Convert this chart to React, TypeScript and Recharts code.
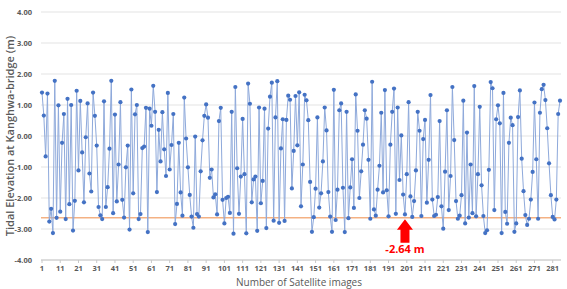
import {
  LineChart,
  Line,
  XAxis,
  YAxis,
  CartesianGrid,
  ReferenceLine,
  ReferenceDot,
  Label,
} from 'recharts';

// tidal elevation (m) per satellite image
const tideLevels = [
  1.4, 0.66, -0.66, 1.37, -2.76, -2.35, -3.13, 1.78, -2.64, 0.99,
  -2.44, -0.22, 0.71, -2.68, 1.2, -2.2, 1.0, -3.05, -2.09, 1.46,
  -1.11, 1.13, -0.53, -2.14, -0.04, 1.05, -1.21, -1.79, 1.4, 0.65,
  -0.31, -2.29, -2.56, -2.68, 1.12, -2.29, -1.65, -0.41, 1.78, -2.49,
  0.69, -2.11, -0.92, 1.09, -2.06, -2.63, -1.01, -0.31, -3.02, 1.5,
  -1.85, 0.7, 1.0, -2.68, -2.52, -0.39, -0.34, 0.91, -3.1, 0.88,
  0.33, 1.62, 0.78, -1.81, 0.2, -0.82, 0.77, -0.43, -1.29, 1.39,
  -1.08, -0.29, 0.71, -2.84, -2.19, -0.22, -1.82, -2.57, 1.24, -0.08,
  -1.01, -1.9, -2.6, -2.96, -0.02, -2.52, -2.6, -1.14, -0.14, 0.65,
  1.02, 0.59, -1.35, -1.08, -1.98, -1.88, -2.53, 0.48, 0.91, -2.06,
  -2.82, -2.0, -1.96, -2.48, 0.78, -3.15, 1.58, -1.04, -2.51, -1.31,
  0.55, -1.23, -3.14, 1.69, 1.04, -2.14, -1.4, -1.31, -3.06, 0.92,
  -2.17, -1.45, 0.88, -2.97, 0.24, 1.27, 1.72, -2.73, 0.6, 1.77,
  -2.8, -0.4, 0.54, -2.74, 0.52, 1.3, 1.17, -1.69, -0.48, 1.29,
  -0.3, 1.41, -2.27, -0.92, 1.33, 1.15, 0.51, -1.48, -3.09, -2.62,
  -1.7, 0.6, -2.31, -1.85, -0.82, 0.92, 0.18, -1.81, -2.6, -3.09,
  1.49, -2.71, -1.73, 0.83, 1.05, -1.67, -3.1, 0.78, -2.65, -1.66,
  -0.75, -2.32, 1.34, 0.17, -2.0, -1.14, -0.28, 0.83, 0.56, -0.77,
  -2.67, 1.75, -2.37, -2.57, -1.73, -0.96, 0.75, -1.82, 1.48, -1.75,
  -2.59, -0.28, 0.78, 1.53, -2.51, 0.92, -1.42, 0.02, -1.89, -2.53,
  -1.23, 1.09, -1.95, -2.61, -2.1, -1.11, 0.78, 0.17, -2.58, -0.1,
  0.52, -2.15, -0.77, 1.32, -2.05, -2.58, -2.54, -1.97, 0.48, -2.27,
  -2.99, -1.15, 0.83, -2.39, -1.29, 1.58, -0.13, -2.1, -2.67, -2.57,
  -1.91, 1.14, -2.82, 0.11, -2.63, -0.92, -2.49, 1.61, -2.59, -1.23,
  0.94, -1.59, -2.58, -3.13, -3.04, -1.09, 1.74, 1.54, -2.39, 0.54,
  0.99, 0.41, -3.13, 1.39, -2.45, -2.83, -0.22, 0.59, 0.35, -3.09,
  -2.82, 0.61, 1.47, -0.73, -1.78, -2.55, -2.87, -2.67, -2.05, -1.16,
  1.08, -0.75, -2.67, 0.75, 1.51, 1.65, 1.16, 0.25, -0.88, -1.91,
  -2.61, -2.69, -2.05, 0.71, 1.14,
];

const yTicks = [-4, -3, -2, -1, 0, 1, 2, 3, 4];
const thresholdLevel = -2.64;
const thresholdLabel = '-2.64 m';
const arrowImage = 200;

const data = tideLevels.map((level, i) => ({ image: i + 1, level }));

const axisText = { fill: '#595959', fontSize: 7.5, fontWeight: 700 };
const font = '"Open Sans", "Noto Sans", sans-serif';

const Arrow = ({ cx, cy }: any) => {
  if (cx == null || cy == null) return null;
  const tip = cy + 1.5;
  const base = cy + 12;
  const end = cy + 25;
  const d = `M${cx},${tip} L${cx + 8},${base} L${cx + 4.5},${base} L${cx + 4.5},${end} L${cx - 4.5},${end} L${cx - 4.5},${base} L${cx - 8},${base} Z`;
  return (
    <g>
      <path d={d} fill="#FF0000" />
      <text
        x={cx}
        y={cy + 35}
        textAnchor="middle"
        fill="#FF0000"
        fontSize={11}
        fontWeight={700}
        fontFamily={font}
      >
        {thresholdLabel}
      </text>
    </g>
  );
};

export default function App() {
  return (
    <div style={{ width: 567, height: 289, fontFamily: font }}>
      <style>{'body{margin:0}'}</style>
      <LineChart
        width={567}
        height={289}
        data={data}
        margin={{ top: 12, right: 6, left: 0, bottom: 0 }}
      >
        <CartesianGrid horizontal vertical={false} stroke="#E3E3E3" />
        <XAxis
          dataKey="image"
          interval={9}
          padding={{ left: 1, right: 1 }}
          height={29}
          tickSize={3}
          tickMargin={3}
          stroke="#C8C8C8"
          tick={{ ...axisText, fontFamily: font }}
        >
          <Label
            content={({ viewBox }: any) => (
              <text
                x={viewBox.x + viewBox.width / 2 - 2}
                y={viewBox.y + 26}
                textAnchor="middle"
                fill="#595959"
                fontSize={10}
                fontFamily={font}
              >
                Number of Satellite images
              </text>
            )}
          />
        </XAxis>
        <YAxis
          domain={[-4, 4]}
          ticks={yTicks}
          width={41}
          axisLine={false}
          tickLine={false}
          tickSize={0}
          tickMargin={9}
          tickFormatter={(v: number) => v.toFixed(2)}
          tick={{ ...axisText, fontFamily: font }}
        >
          <Label
            content={({ viewBox }: any) => {
              const cx = 11;
              const cy = viewBox.y + viewBox.height / 2;
              return (
                <text
                  x={cx}
                  y={cy}
                  transform={`rotate(-90 ${cx} ${cy})`}
                  textAnchor="middle"
                  dominantBaseline="middle"
                  fill="#595959"
                  fontSize={11}
                  fontWeight={600}
                  fontFamily={font}
                >
                  Tidal Elevation at Kanghwa-bridge (m)
                </text>
              );
            }}
          />
        </YAxis>
        <ReferenceLine y={thresholdLevel} stroke="#F4B183" strokeWidth={1.5} />
        <Line
          dataKey="level"
          stroke="#8EA9DB"
          strokeWidth={1}
          dot={{ r: 2.1, fill: '#4472C4', stroke: '#4472C4', strokeWidth: 0 }}
          activeDot={false}
          isAnimationActive={false}
        />
        <ReferenceDot
          x={arrowImage}
          y={thresholdLevel}
          shape={Arrow}
          ifOverflow="visible"
        />
      </LineChart>
    </div>
  );
}
